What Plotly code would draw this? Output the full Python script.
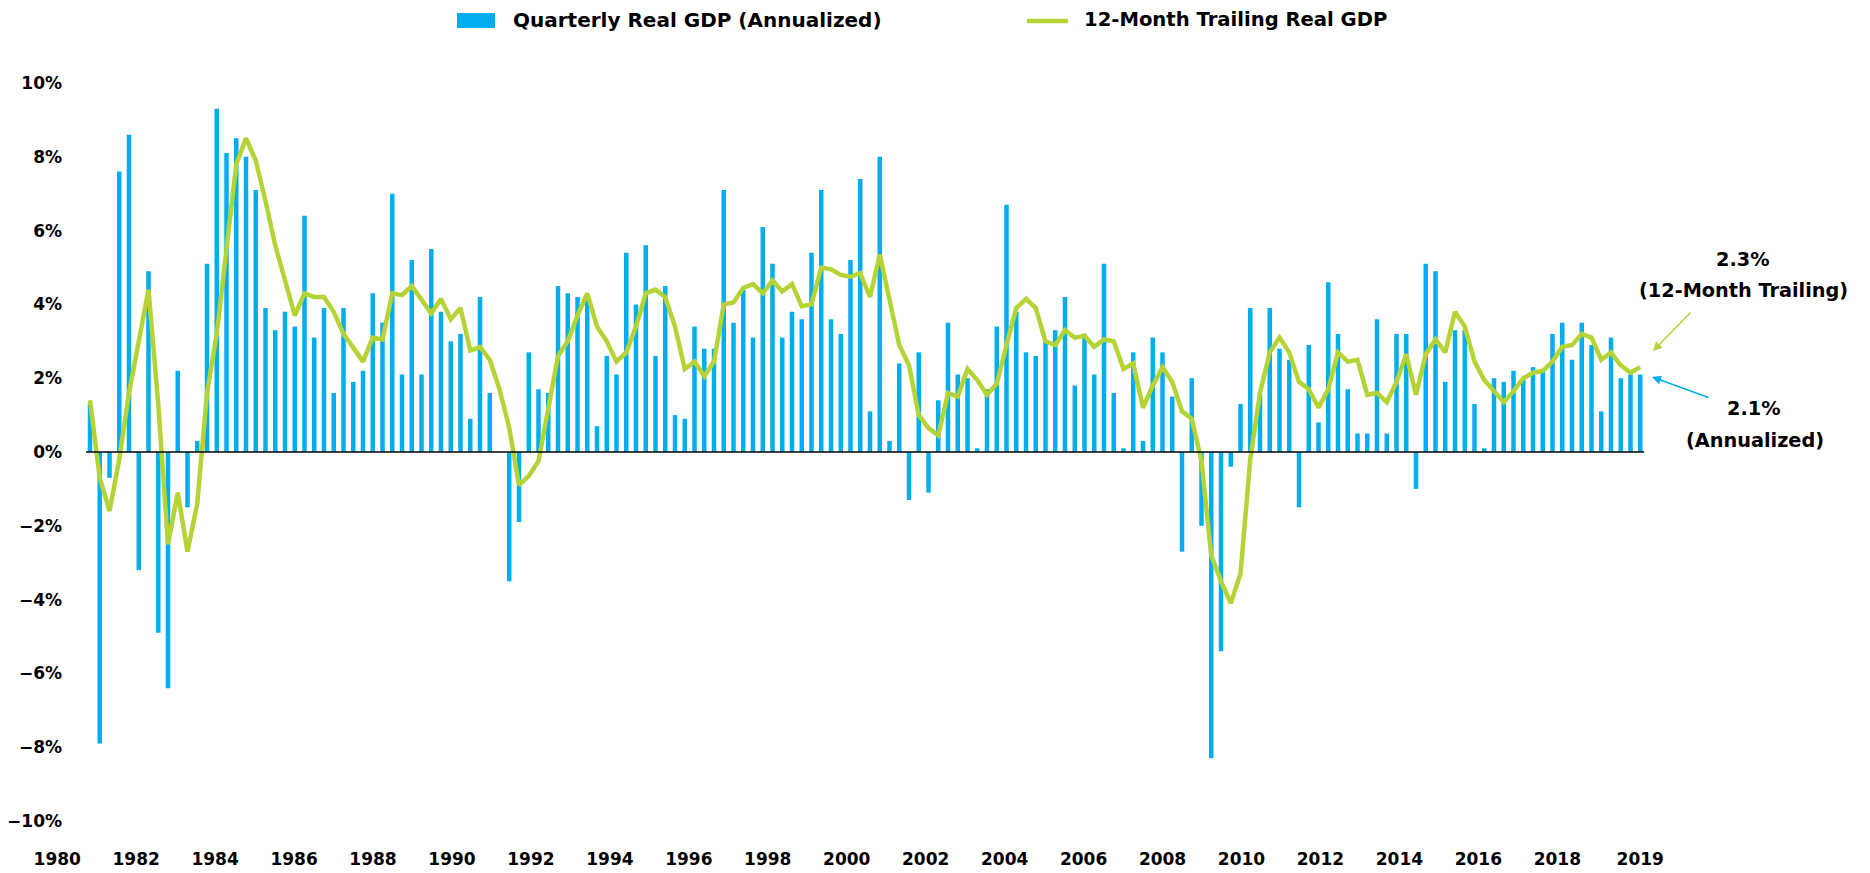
import numpy as np
import plotly.graph_objects as go

# -----------------------------------------------------------------------------
# Data, 1980 Q1 .. 2019 Q4
# -----------------------------------------------------------------------------
years = list(range(1980, 2020))

# quarterly real GDP growth, annualized (%)
quarterly_gdp = [
    1.3, -7.9, -0.7, 7.6,   # 1980
    8.6, -3.2, 4.9, -4.9,   # 1981
    -6.4, 2.2, -1.5, 0.3,   # 1982
    5.1, 9.3, 8.1, 8.5,     # 1983
    8.0, 7.1, 3.9, 3.3,     # 1984
    3.8, 3.4, 6.4, 3.1,     # 1985
    3.9, 1.6, 3.9, 1.9,     # 1986
    2.2, 4.3, 3.5, 7.0,     # 1987
    2.1, 5.2, 2.1, 5.5,     # 1988
    3.8, 3.0, 3.2, 0.9,     # 1989
    4.2, 1.6, 0.0, -3.5,    # 1990
    -1.9, 2.7, 1.7, 1.6,    # 1991
    4.5, 4.3, 4.2, 4.2,     # 1992
    0.7, 2.6, 2.1, 5.4,     # 1993
    4.0, 5.6, 2.6, 4.5,     # 1994
    1.0, 0.9, 3.4, 2.8,     # 1995
    2.8, 7.1, 3.5, 4.4,     # 1996
    3.1, 6.1, 5.1, 3.1,     # 1997
    3.8, 3.6, 5.4, 7.1,     # 1998
    3.6, 3.2, 5.2, 7.4,     # 1999
    1.1, 8.0, 0.3, 2.4,     # 2000
    -1.3, 2.7, -1.1, 1.4,   # 2001
    3.5, 2.1, 2.0, 0.1,     # 2002
    1.7, 3.4, 6.7, 3.8,     # 2003
    2.7, 2.6, 3.0, 3.3,     # 2004
    4.2, 1.8, 3.2, 2.1,     # 2005
    5.1, 1.6, 0.1, 2.7,     # 2006
    0.3, 3.1, 2.7, 1.5,     # 2007
    -2.7, 2.0, -2.0, -8.3,  # 2008
    -5.4, -0.4, 1.3, 3.9,   # 2009
    1.6, 3.9, 2.8, 2.5,     # 2010
    -1.5, 2.9, 0.8, 4.6,    # 2011
    3.2, 1.7, 0.5, 0.5,     # 2012
    3.6, 0.5, 3.2, 3.2,     # 2013
    -1.0, 5.1, 4.9, 1.9,    # 2014
    3.3, 3.3, 1.3, 0.1,     # 2015
    2.0, 1.9, 2.2, 2.0,     # 2016
    2.3, 2.2, 3.2, 3.5,     # 2017
    2.5, 3.5, 2.9, 1.1,     # 2018
    3.1, 2.0, 2.1, 2.1,     # 2019
]

# 12-month trailing real GDP growth (%)
trailing_gdp = [
    1.4, -0.7, -1.6, -0.2,     # 1980
    1.6, 3.0, 4.4, 1.3,        # 1981
    -2.5, -1.1, -2.7, -1.4,    # 1982
    1.6, 3.2, 5.5, 7.8,        # 1983
    8.5, 7.9, 6.8, 5.6,        # 1984
    4.65, 3.7, 4.3, 4.2,       # 1985
    4.2, 3.8, 3.2, 2.85,       # 1986
    2.45, 3.1, 3.05, 4.3,      # 1987
    4.25, 4.5, 4.1, 3.75,      # 1988
    4.15, 3.6, 3.9, 2.75,      # 1989
    2.85, 2.5, 1.7, 0.65,      # 1990
    -0.9, -0.65, -0.25, 1.2,   # 1991
    2.6, 3.0, 3.7, 4.3,        # 1992
    3.4, 3.0, 2.45, 2.7,       # 1993
    3.4, 4.3, 4.4, 4.2,        # 1994
    3.4, 2.25, 2.45, 2.05,     # 1995
    2.45, 4.0, 4.05, 4.45,     # 1996
    4.55, 4.3, 4.65, 4.35,     # 1997
    4.55, 3.95, 4.0, 5.0,      # 1998
    4.95, 4.8, 4.75, 4.85,     # 1999
    4.2, 5.35, 4.1, 2.9,       # 2000
    2.35, 1.0, 0.65, 0.45,     # 2001
    1.6, 1.5, 2.25, 1.95,      # 2002
    1.55, 1.85, 2.9, 3.9,      # 2003
    4.15, 3.9, 3.0, 2.9,       # 2004
    3.3, 3.1, 3.15, 2.85,      # 2005
    3.05, 3.0, 2.25, 2.4,      # 2006
    1.2, 1.8, 2.3, 1.9,        # 2007
    1.1, 0.9, -0.25, -2.8,     # 2008
    -3.5, -4.1, -3.3, -0.2,    # 2009
    1.6, 2.7, 3.1, 2.7,        # 2010
    1.9, 1.7, 1.2, 1.7,        # 2011
    2.7, 2.45, 2.5, 1.55,      # 2012
    1.6, 1.35, 1.9, 2.65,      # 2013
    1.55, 2.65, 3.05, 2.7,     # 2014
    3.8, 3.4, 2.45, 1.95,      # 2015
    1.65, 1.35, 1.65, 2.0,     # 2016
    2.15, 2.2, 2.45, 2.85,     # 2017
    2.9, 3.2, 3.1, 2.5,        # 2018
    2.7, 2.35, 2.15, 2.3,      # 2019
]

tick_labels = ["1980", "1982", "1984", "1986", "1988", "1990", "1992",
               "1994", "1996", "1998", "2000", "2002", "2004", "2006",
               "2008", "2010", "2012", "2014", "2016", "2018", "2019"]

# x position of each quarter in decimal years
quarter_x = [y + q / 4 for y in years for q in range(4)]

BLUE = "#00AEEF"
GREEN = "#B4D335"
FONT = "DejaVu Sans"

# page geometry (the page's body margin is removed below, so figure px = screen px)
W, H = 1870, 873
L, R, T, B = 50, 225, 83, 52
PW, PH = W - L - R, H - T - B


def px(xs):
    return (xs - L) / PW


def py(ys):
    return (H - B - ys) / PH


# x range: 39px per year, first bar at x=90
x0 = 1980 - 40 / 39
x1 = x0 + PW / 39

fig = go.Figure()
fig.add_trace(go.Bar(
    x=quarter_x, y=quarterly_gdp, name="Quarterly Real GDP (Annualized)",
    marker=dict(color=BLUE, line=dict(width=0)),
))
fig.add_trace(go.Scatter(
    x=quarter_x, y=trailing_gdp, name="12-Month Trailing Real GDP",
    mode="lines", line=dict(color=GREEN, width=4.5),
))

# year labels in the original sit slightly left of their quarters,
# evenly spaced, with the last one under the final bar
tick_pos = list(x0 + 0.185 + 2.0244 * np.arange(len(tick_labels) - 1)) + [quarter_x[-1]]

fig.update_layout(
    width=W, height=H,
    margin=dict(l=L, r=R, t=T, b=B, autoexpand=False),
    paper_bgcolor="white", plot_bgcolor="white",
    showlegend=False, bargap=0.54,
    font=dict(family=FONT, size=17, color="black", weight="bold"),
    xaxis=dict(
        range=[x0, x1], automargin=False,
        tickvals=tick_pos, ticktext=tick_labels,
        showgrid=False, zeroline=False, showline=False, ticks="",
        ticklabelstandoff=26,
        tickfont=dict(family=FONT, size=17, weight="bold"),
    ),
    yaxis=dict(
        range=[-10, 10], dtick=2, tickformat=".0f", ticksuffix="%",
        automargin=False,
        showgrid=False, zeroline=False, showline=False, ticks="",
        anchor="free", position=px(86), ticklabelstandoff=24,
        tickfont=dict(family=FONT, size=17, weight="bold"),
    ),
)

# zero line only under the bars
fig.add_shape(type="line", xref="x", yref="y",
              x0=quarter_x[0] - 0.1, x1=quarter_x[-1] + 0.1, y0=0, y1=0,
              line=dict(color="black", width=1.5), layer="above")

# custom legend (wide bar key, as in the original)
fig.add_shape(type="rect", xref="paper", yref="paper",
              x0=px(457), x1=px(495), y0=py(28), y1=py(13),
              fillcolor=BLUE, line=dict(width=0))
fig.add_annotation(xref="paper", yref="paper", x=px(511), y=py(20),
                   xanchor="left", yanchor="middle", showarrow=False,
                   text="Quarterly Real GDP (Annualized)",
                   font=dict(family=FONT, size=20, weight="bold"))
fig.add_shape(type="line", xref="paper", yref="paper",
              x0=px(1027), x1=px(1068), y0=py(21), y1=py(21),
              line=dict(color=GREEN, width=4.5))
fig.add_annotation(xref="paper", yref="paper", x=px(1082), y=py(20),
                   xanchor="left", yanchor="middle", showarrow=False,
                   text="12-Month Trailing Real GDP",
                   font=dict(family=FONT, size=19.6, weight="bold"))

# end-point call-outs
callouts = [
    ("2.3%", 1743, 259),
    ("(12-Month Trailing)", 1744, 290),
    ("2.1%", 1753, 408),
    ("(Annualized)", 1755, 440),
]
for txt, cx, cy in callouts:
    fig.add_annotation(xref="paper", yref="paper", x=px(cx), y=py(cy),
                       xanchor="center", yanchor="middle", showarrow=False,
                       text=txt, font=dict(family=FONT, size=19.3, weight="bold"))

fig.add_annotation(xref="paper", yref="paper", x=px(1653), y=py(351),
                   ax=39, ay=-40, text="", showarrow=True,
                   arrowhead=2, arrowsize=1.2, arrowwidth=1.5, arrowcolor=GREEN)
fig.add_annotation(xref="paper", yref="paper", x=px(1652), y=py(377),
                   ax=58, ay=21, text="", showarrow=True,
                   arrowhead=2, arrowsize=1.2, arrowwidth=1.5, arrowcolor=BLUE)

fig.write_html("out.html", config={"displayModeBar": False},
               post_script="document.body.style.margin = '0px';")
